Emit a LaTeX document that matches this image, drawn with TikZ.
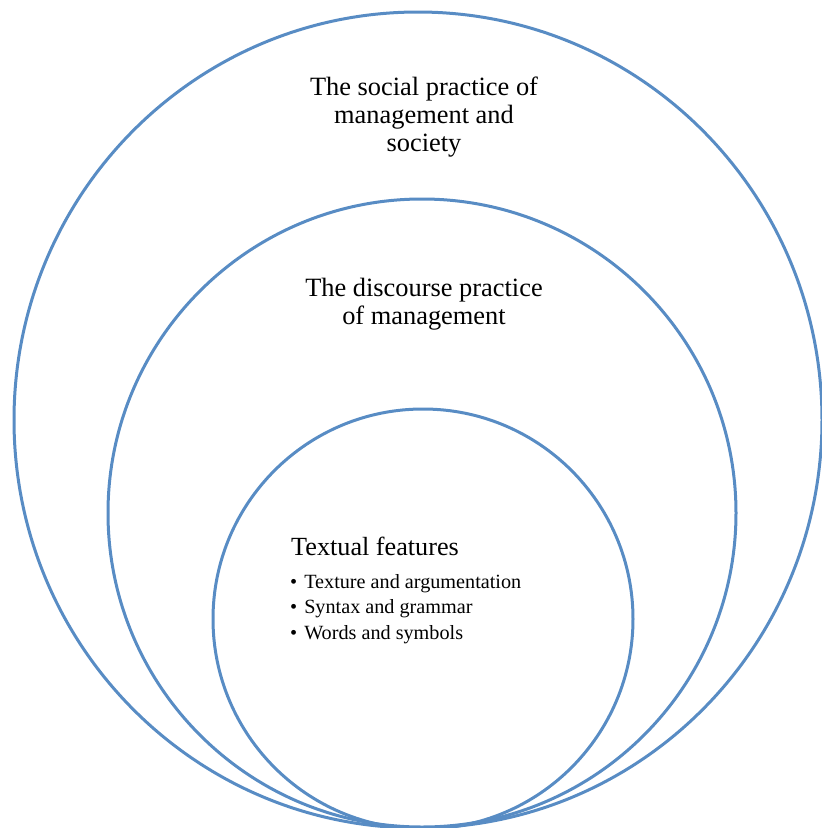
\documentclass[tikz,border=0pt]{standalone}
\usepackage{fontspec}
\setmainfont{Liberation Serif}
\definecolor{ringblue}{RGB}{88,140,196}
\newcommand{\listitem}{\textbullet\hspace{7pt}}
\begin{document}
\begin{tikzpicture}[x=1pt,y=-1pt,
  ring/.style={draw=ringblue,line width=3pt},
  title/.style={align=center,inner sep=0pt,font=\fontsize{26.4}{28}\selectfont},
  bullets/.style={align=left,inner sep=0pt,font=\fontsize{20.2}{25.5}\selectfont}]
  \useasboundingbox (0,0) rectangle (822,828);
  % three nested rings touching at the bottom
  \coordinate (outerc) at (418,420);
  \coordinate (midc) at (422,513);
  \coordinate (innerc) at (423,619);
  \draw[ring] (outerc) ellipse [x radius=404,y radius=408];
  \draw[ring] (midc) circle [radius=314];
  \draw[ring] (innerc) circle [radius=210];
  % ring labels (base anchor sits on the last line)
  \node[title,anchor=base] (social) at (424,151)
    {The social practice of\\management and\\society};
  \node[title,anchor=base] (discourse) at (424,324)
    {The discourse practice\\of management};
  \node[anchor=base west,inner sep=0pt,font=\fontsize{26.2}{30}\selectfont] (textual) at (291,555)
    {Textual features};
  \node[bullets,anchor=base west] (list) at (290,639)
    {\listitem Texture and argumentation\\
     \listitem Syntax and grammar\\
     \listitem Words and symbols};
\end{tikzpicture}
\end{document}
